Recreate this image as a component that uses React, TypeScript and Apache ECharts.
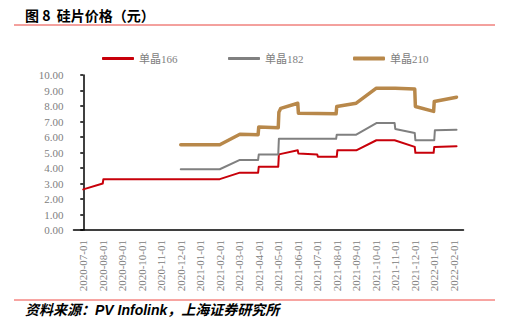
import React, { useEffect, useRef } from "react";
import * as echarts from "echarts";

const months = [
  "2020-07-01", "2020-08-01", "2020-09-01", "2020-10-01", "2020-11-01",
  "2020-12-01", "2021-01-01", "2021-02-01", "2021-03-01", "2021-04-01",
  "2021-05-01", "2021-06-01", "2021-07-01", "2021-08-01", "2021-09-01",
  "2021-10-01", "2021-11-01", "2021-12-01", "2022-01-01", "2022-02-01",
];

const yTicks = [0, 1, 2, 3, 4, 5, 6, 7, 8, 9, 10];

const seriesNames = ["单晶166", "单晶182", "单晶210"];

const mono166: [string, number][] = [
  ["2020-07-01", 2.62], ["2020-08-01", 3.0], ["2020-08-02", 3.28],
  ["2021-02-01", 3.28], ["2021-03-02", 3.7], ["2021-03-31", 3.7],
  ["2021-04-01", 4.08], ["2021-05-01", 4.08], ["2021-05-02", 4.88],
  ["2021-06-01", 5.14], ["2021-06-02", 4.93], ["2021-07-01", 4.87],
  ["2021-07-02", 4.72], ["2021-08-01", 4.72], ["2021-08-02", 5.14],
  ["2021-09-01", 5.14], ["2021-10-02", 5.79], ["2021-10-31", 5.79],
  ["2021-12-01", 5.36], ["2021-12-02", 4.98], ["2021-12-31", 4.98],
  ["2022-01-01", 5.36], ["2022-02-05", 5.4],
];

const mono182: [string, number][] = [
  ["2020-12-01", 3.92], ["2021-02-01", 3.92], ["2021-03-02", 4.52],
  ["2021-03-31", 4.52], ["2021-04-01", 4.87], ["2021-05-01", 4.87],
  ["2021-05-02", 5.88], ["2021-07-31", 5.88], ["2021-08-01", 6.15],
  ["2021-09-01", 6.15], ["2021-10-02", 6.9], ["2021-10-31", 6.9],
  ["2021-11-01", 6.52], ["2021-12-01", 6.26], ["2021-12-02", 5.79],
  ["2022-01-01", 5.79], ["2022-01-02", 6.43], ["2022-02-05", 6.47],
];

const mono210: [string, number][] = [
  ["2020-12-01", 5.5], ["2021-02-01", 5.5], ["2021-03-02", 6.18],
  ["2021-03-31", 6.15], ["2021-04-01", 6.65], ["2021-05-01", 6.6],
  ["2021-05-02", 7.6], ["2021-05-05", 7.85], ["2021-06-01", 8.18],
  ["2021-06-02", 7.54], ["2021-07-31", 7.5], ["2021-08-01", 7.97],
  ["2021-09-01", 8.18], ["2021-10-02", 9.15], ["2021-11-01", 9.15],
  ["2021-12-01", 9.1], ["2021-12-02", 7.97], ["2021-12-31", 7.65],
  ["2022-01-01", 8.29], ["2022-02-05", 8.57],
];

const colors = ["#C8000A", "#808080", "#B8884A"];
const widths = [2, 2, 3.5];

function toMonthIndex(d: string): number {
  const [y, mo, da] = d.split("-").map(Number);
  const dim = new Date(y, mo, 0).getDate();
  return (y - 2020) * 12 + (mo - 7) + (da - 1) / dim;
}

const serif = "'Liberation Serif', 'Times New Roman', 'Noto Sans CJK SC', serif";

export default function App() {
  const ref = useRef<HTMLDivElement>(null);
  useEffect(() => {
    if (!ref.current) return;
    const chart = echarts.init(ref.current, null, { renderer: "svg" });
    const data = [mono166, mono182, mono210];
    const legendLefts = [97, 223, 348];
    chart.setOption({
      animation: false,
      grid: { left: 73.5, right: 44.5, top: 75, bottom: 104, containLabel: false },
      legend: seriesNames.map((n, i) => ({
        data: [n],
        left: legendLefts[i],
        top: 48,
        icon: "roundRect",
        itemWidth: 32,
        itemHeight: i === 2 ? 4 : 3,
        itemGap: 4,
        textStyle: { color: "#808080", fontSize: 11, fontFamily: serif },
      })),
      xAxis: [
        {
          type: "category",
          data: months,
          boundaryGap: true,
          axisLine: { lineStyle: { color: "#000", width: 1.5 } },
          axisTick: { show: false },
          axisLabel: {
            rotate: 90,
            interval: 0,
            margin: 10,
            color: "#808080",
            fontSize: 11,
            fontFamily: serif,
          },
          splitLine: { show: false },
        },
        { type: "value", min: -0.5, max: 19.5, show: false },
      ],
      yAxis: {
        type: "value",
        min: yTicks[0],
        max: yTicks[yTicks.length - 1],
        interval: 1,
        axisLine: { show: true, lineStyle: { color: "#000", width: 1.5 } },
        axisTick: { show: true, length: 3, lineStyle: { color: "#000", width: 1.5 } },
        axisLabel: {
          margin: 10,
          color: "#808080",
          fontSize: 11,
          fontFamily: serif,
          formatter: (v: number) => v.toFixed(2),
        },
        splitLine: { show: false },
      },
      series: data.map((arr, i) => ({
        name: seriesNames[i],
        type: "line",
        xAxisIndex: 1,
        showSymbol: false,
        symbol: "none",
        data: arr.map(([d, v]) => [toMonthIndex(d), v]),
        itemStyle: { color: colors[i] },
        lineStyle: { color: colors[i], width: widths[i], cap: "round", join: "round" },
      })),
      graphic: [
        {
          type: "text",
          left: 25,
          top: 8,
          style: {
            text: "图 8  硅片价格（元）",
            fill: "#000",
            font: "bold 14px 'Noto Sans CJK SC', sans-serif",
          },
        },
        {
          type: "line",
          shape: { x1: 14, y1: 25, x2: 495, y2: 25 },
          style: { stroke: "#E8423C", lineWidth: 1 },
        },
        {
          type: "line",
          shape: { x1: 14, y1: 300, x2: 495, y2: 300 },
          style: { stroke: "#F04A44", lineWidth: 1 },
        },
        {
          type: "text",
          left: 25,
          top: 303,
          style: {
            text: "资料来源：PV Infolink，上海证券研究所",
            fill: "#000",
            font: "italic bold 14px 'Liberation Sans', Arial, 'Noto Sans CJK SC', sans-serif",
          },
        },
      ],
    });
    return () => chart.dispose();
  }, []);
  return (
    <div
      ref={ref}
      style={{ position: "fixed", left: 0, top: 0, width: 508, height: 334, background: "#fff" }}
    />
  );
}
